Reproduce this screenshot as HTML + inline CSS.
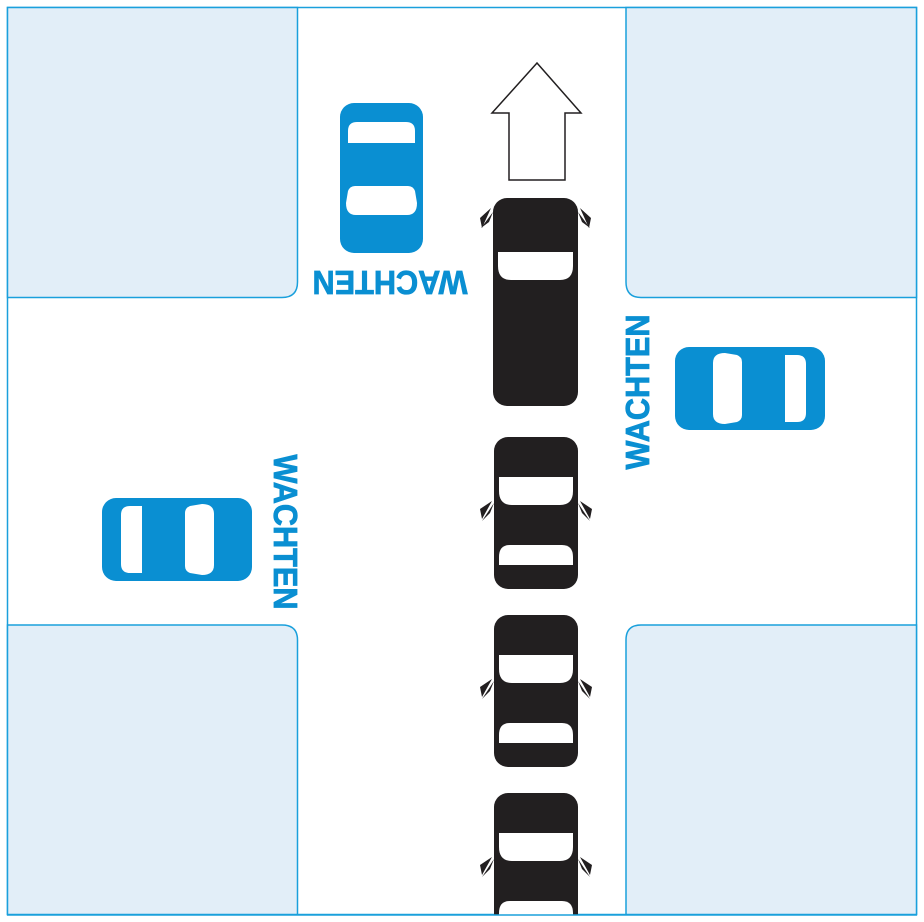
<!DOCTYPE html>
<html><head><meta charset="utf-8"><style>html,body{margin:0;padding:0;background:#fff}svg{display:block}</style></head>
<body>
<svg width="924" height="922" viewBox="0 0 924 922" xmlns="http://www.w3.org/2000/svg">
<defs>
<g id="bcar">
<rect x="0" y="0" width="83" height="150" rx="14" fill="#0a8fd2"/>
<path d="M6 50 Q6 38 16 38 L67 38 Q77 38 77 50 L75 62 Q73 67 68 67 L15 67 Q10 67 8 62 Z" fill="#fff"/>
<path d="M8 110 L75 110 L75 122 Q75 131 66 131 L17 131 Q8 131 8 122 Z" fill="#fff"/>
</g>
<g id="kcar">
<rect x="0" y="0" width="84" height="152" rx="14" fill="#221f20"/>
<path d="M5 40 L79 40 L79 54 Q79 68 66 68 L18 68 Q5 68 5 54 Z" fill="#fff"/>
<path d="M5 120 Q5 108 16 108 L68 108 Q79 108 79 120 L79 128 L5 128 Z" fill="#fff"/>
<path d="M0 66 L-12 84 L-4 76 Z M84 66 L96 84 L88 76 Z" fill="#221f20"/>
<path d="M-2 64 L-14 72 L-12 82 Z M86 64 L98 72 L96 82 Z" fill="#221f20"/>
</g>
</defs>
<rect x="7.5" y="7.5" width="909" height="907" fill="#fff" stroke="#1aa0dc" stroke-width="1.5"/>
<g fill="#e2eef8" stroke="#1aa0dc" stroke-width="1.5">
<path d="M7.5 7.5 H297.5 V282 Q297.5 297.5 282 297.5 H7.5 Z"/>
<path d="M916.5 7.5 H626 V282 Q626 297.5 641 297.5 H916.5 Z"/>
<path d="M7.5 914.5 H297.5 V640 Q297.5 625 282 625 H7.5 Z"/>
<path d="M916.5 914.5 H626 V640 Q626 625 641 625 H916.5 Z"/>
</g>
<path d="M537 63 L581 113 L565 113 L565 180 L509 180 L509 113 L492 113 Z" fill="#fff" stroke="#221f20" stroke-width="1.5"/>
<g>
<rect x="493" y="198" width="85" height="208" rx="14" fill="#221f20"/>
<path d="M498 252 L573 252 L573 266 Q573 280 560 280 L511 280 Q498 280 498 266 Z" fill="#fff"/>
<path d="M493 212 L481 228 L489 222 Z M578 212 L590 228 L582 222 Z" fill="#221f20"/>
<path d="M491 208 L480 218 L482 228 Z M580 208 L591 218 L589 228 Z" fill="#221f20"/>
</g>
<use href="#kcar" x="494" y="437"/>
<use href="#kcar" x="494" y="615"/>
<use href="#kcar" x="494" y="793"/>
<rect x="480" y="915" width="120" height="7" fill="#fff"/>
<line x1="7" y1="915" x2="917" y2="915" stroke="#1aa0dc" stroke-width="1.5"/>
<use href="#bcar" transform="translate(423,253) rotate(180)"/>
<use href="#bcar" transform="translate(252,498) rotate(90)"/>
<use href="#bcar" transform="translate(675,430) rotate(-90)"/>
<g font-family="Liberation Sans, sans-serif" font-weight="bold" font-size="33" fill="#0a8fd2" text-anchor="middle" stroke="#0a8fd2" stroke-width="0.8">
<text transform="translate(390,271) rotate(180)" textLength="155" lengthAdjust="spacingAndGlyphs">WACHTEN</text>
<text transform="translate(649,392) rotate(-90)" textLength="155" lengthAdjust="spacingAndGlyphs">WACHTEN</text>
<text transform="translate(274,532) rotate(90)" textLength="155" lengthAdjust="spacingAndGlyphs">WACHTEN</text>
</g>
</svg>
</body></html>
